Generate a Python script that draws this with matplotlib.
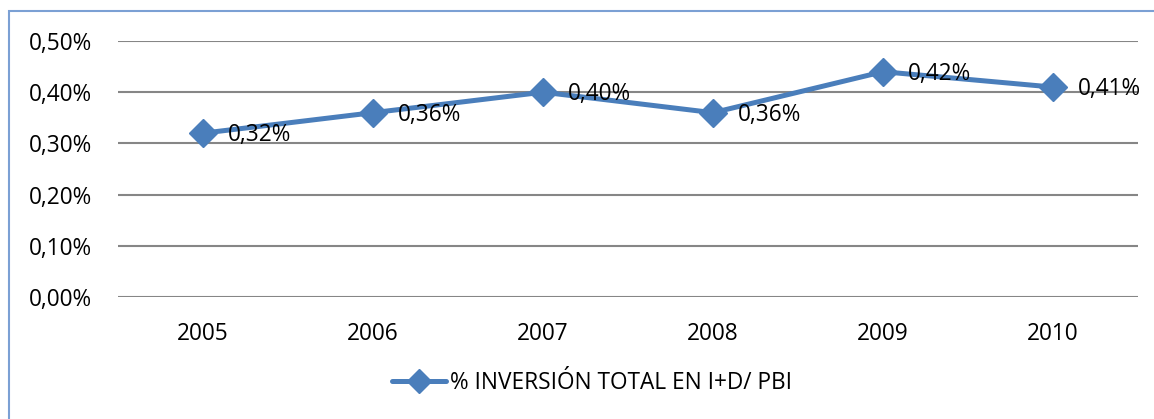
import matplotlib
matplotlib.use("Agg")
import matplotlib.pyplot as plt
from matplotlib.ticker import FuncFormatter, MultipleLocator
from matplotlib.patches import Rectangle

years = ["2005", "2006", "2007", "2008", "2009", "2010"]
values = [0.32, 0.36, 0.40, 0.36, 0.44, 0.41]
value_labels = ["0,32%", "0,36%", "0,40%", "0,36%", "0,42%", "0,41%"]
series_name = "% INVERSIÓN TOTAL EN I+D/ PBI"

W, H = 1154, 419
DPI = 100
FS = 16.3
plt.rcParams['font.family'] = ['Open Sans', 'DejaVu Sans']
fig = plt.figure(figsize=(W / DPI, H / DPI), dpi=DPI)

# frame border (extends past right and bottom edges)
fig.patches.append(Rectangle((9 / W, -0.1), 1.2, (H - 11) / H + 0.1,
                             transform=fig.transFigure, fill=False,
                             edgecolor="#7BA0D4", linewidth=1.5))

ax = fig.add_axes([118 / W, (H - 297) / H, (1138 - 118) / W, 256 / H])
x = list(range(len(years)))
color = "#4A7EBB"
ax.plot(x, values, color=color, linewidth=3.6, marker="D", markersize=14,
        markerfacecolor=color, markeredgecolor=color, solid_capstyle="round",
        label=series_name, zorder=3)

for xi, v, lab in zip(x, values, value_labels):
    ax.annotate(lab, (xi, v), xytext=(18, -1.5), textcoords="offset points",
                ha="left", va="center", fontsize=FS, color="black", zorder=4)

ax.set_xlim(-0.5, len(years) - 0.5)
ax.set_ylim(0, 0.5)
ax.yaxis.set_major_locator(MultipleLocator(0.1))
ax.yaxis.set_major_formatter(FuncFormatter(lambda v, p: f"{v:.2f}%".replace(".", ",")))
ax.set_xticks(x)
ax.set_xticklabels(years)
ax.grid(axis="y", color="#868686", linewidth=1.5, zorder=0)
ax.set_axisbelow(True)
for s in ax.spines.values():
    s.set_visible(False)
ax.tick_params(axis="both", length=0, labelsize=FS, colors="black")
ax.tick_params(axis="y", pad=18.5)
ax.tick_params(axis="x", pad=18)

leg = fig.legend(loc="center", bbox_to_anchor=(592 / W, 1 - 383 / H),
                 frameon=False, fontsize=FS, handlelength=2.4,
                 handletextpad=0.2, markerscale=0.85)

fig.savefig("out.png", dpi=DPI)
